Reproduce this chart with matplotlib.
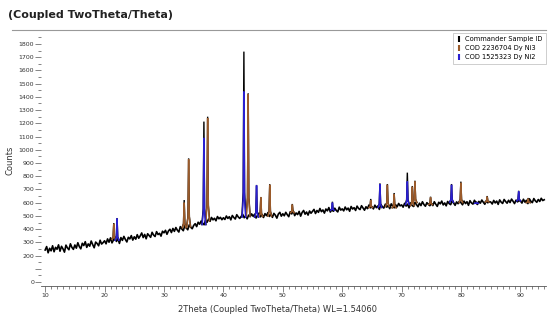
import numpy as np
import matplotlib
matplotlib.use("Agg")
import matplotlib.pyplot as plt
from matplotlib.ticker import MultipleLocator, FuncFormatter

# ---- measured background (counts every 0.25 deg from 10.0 to 94.0) ----
two_theta_start = 10.0
two_theta_step = 0.25
counts = [
    242, 268, 221, 255, 236, 274, 229, 262, 248, 281, 233, 270, 251, 226, 279, 258, 244, 289, 262, 247,
    280, 256, 297, 268, 251, 293, 276, 305, 262, 288, 271, 310, 283, 259, 302, 291, 274, 316, 287, 298,
    312, 289, 326, 301, 334, 296, 318, 340, 307, 329, 292, 336, 315, 345, 322, 303, 338, 326, 351, 317,
    342, 324, 358, 331, 349, 371, 336, 360, 327, 365, 352, 338, 376, 355, 344, 381, 359, 368, 347, 384,
    372, 391, 361, 386, 399, 374, 405, 383, 412, 392, 378, 419, 401, 388, 426, 409, 395, 432, 414, 403,
    428, 441, 419, 452, 437, 461, 445, 433, 468, 452, 476, 459, 488, 470, 482, 463, 495, 478, 489, 471,
    486, 473, 499, 481, 494, 470, 503, 488, 476, 509, 492, 481, 497, 512, 486, 501, 478, 506, 494, 515,
    497, 512, 484, 506, 521, 493, 510, 488, 517, 502, 525, 496, 511, 489, 519, 505, 483, 514, 527, 498,
    516, 501, 527, 509, 494, 531, 515, 538, 502, 522, 510, 534, 498, 526, 541, 513, 529, 506, 537, 520,
    534, 549, 518, 541, 527, 556, 532, 545, 521, 552, 538, 563, 529, 547, 535, 558, 541, 530, 566, 544,
    553, 538, 567, 546, 559, 535, 571, 552, 562, 541, 574, 556, 548, 577, 560, 543, 569, 555, 582, 561,
    568, 553, 581, 562, 575, 549, 586, 570, 559, 588, 566, 579, 555, 591, 573, 561, 584, 569, 594, 576,
    583, 566, 595, 574, 589, 561, 598, 580, 571, 602, 585, 569, 596, 578, 607, 586, 573, 600, 589, 577,
    594, 578, 607, 588, 572, 603, 591, 612, 583, 598, 576, 609, 593, 585, 614, 597, 580, 606, 592, 611,
    599, 584, 612, 593, 607, 580, 615, 598, 589, 618, 601, 586, 610, 596, 620, 603, 588, 614, 599, 608,
    605, 590, 617, 598, 612, 587, 621, 604, 594, 624, 609, 596, 618, 601, 627, 611, 593, 619, 606, 615,
    612, 597, 626, 604, 618, 593, 629, 611, 600, 631, 614, 603, 624, 609, 633, 616, 622,
]

# ---- measured peaks (position, top count) ----
sample_pos = [21.55, 22.1, 33.4, 34.15, 36.72, 37.35, 43.45, 44.17, 45.58, 46.3, 47.8, 51.6,
              58.35, 64.8, 66.35, 67.6, 68.74, 70.96, 71.8, 72.24, 74.87, 78.4, 79.97, 82.6,
              84.4, 89.7, 91.3]
sample_top = [446, 484, 620, 935, 1213, 1250, 1742, 1427, 734, 643, 740, 590,
              607, 628, 746, 741, 673, 827, 726, 766, 645, 741, 759, 607,
              650, 690, 635]

dyni3_pos = [21.55, 33.4, 34.15, 37.35, 44.17, 46.3, 47.8, 51.6, 64.8, 67.6, 68.74, 71.8,
             72.24, 74.87, 79.97, 84.4, 91.3]
dyni3_top = [440, 600, 928, 1240, 1420, 640, 735, 585, 620, 735, 665, 720,
             760, 640, 750, 645, 630]

dyni2_pos = [22.1, 36.72, 43.45, 45.58, 58.35, 66.35, 70.96, 78.4, 82.6, 89.7]
dyni2_top = [480, 1090, 1440, 730, 600, 740, 760, 735, 600, 685]

labels = ["Commander Sample ID", "COD 2236704 Dy Ni3", "COD 1525323 Dy Ni2"]
colors = ["#000000", "#9a5a2a", "#2a1fd0"]

W, H = 550, 321
fig = plt.figure(figsize=(W / 100, H / 100), dpi=100)
ax = fig.add_axes([41 / W, 1 - 286 / H, (546 - 41) / W, (286 - 36) / H])

tt = two_theta_start + two_theta_step * np.arange(len(counts))
counts = np.array(counts, dtype=float)


def peak_line(ax, pos, top, color, lw, hw):
    for p, t in zip(pos, top):
        b = np.interp(p, tt, counts)
        ax.plot([p - hw, p - hw * 0.35, p, p + hw * 0.35, p + hw],
                [b, b + (t - b) * 0.15, t, b + (t - b) * 0.15, b],
                color=color, lw=lw, solid_joinstyle="miter")


ax.plot(tt, counts, color=colors[0], lw=1.2)
peak_line(ax, sample_pos, sample_top, colors[0], 1.0, 0.35)
peak_line(ax, dyni3_pos, dyni3_top, colors[1], 1.1, 0.3)
peak_line(ax, dyni2_pos, dyni2_top, colors[2], 1.1, 0.3)

ax.set_xlim(9.3, 94.3)
ax.set_ylim(-30, 1860)

ax.xaxis.set_major_locator(MultipleLocator(10))
ax.xaxis.set_minor_locator(MultipleLocator(1))
ax.yaxis.set_major_locator(MultipleLocator(100))
ax.yaxis.set_minor_locator(MultipleLocator(50))
ax.yaxis.set_major_formatter(FuncFormatter(lambda v, p: "" if abs(v - 100) < 1 else f"{v:.0f}"))

for s in ["top", "right", "left"]:
    ax.spines[s].set_visible(False)
ax.spines["bottom"].set_color("#555555")
ax.spines["bottom"].set_linewidth(0.6)
ax.tick_params(axis="both", which="major", labelsize=4.5, length=4, width=0.5,
               colors="#555555", labelcolor="#333333", pad=1.0)
ax.tick_params(axis="both", which="minor", length=2, width=0.5, colors="#555555")

ax.set_xlabel("2Theta (Coupled TwoTheta/Theta) WL=1.54060", fontsize=6, color="#333333")
ax.xaxis.set_label_coords((277 - 41) / 505, -(305 - 286) / 250)
ax.set_ylabel("Counts", fontsize=6, color="#333333")
ax.yaxis.set_label_coords(-(41 - 15) / 505, (286 - 160) / 250)

fig.text(8 / W, 1 - 15 / H, "(Coupled TwoTheta/Theta)", fontsize=8, fontweight="bold",
         va="center", ha="left", color="#222222")
fig.add_artist(plt.Line2D([12 / W, 546 / W], [1 - 30 / H, 1 - 30 / H], color="#999999", lw=0.8))

handles = [plt.Line2D([], [], color=c, marker="|", ls="none", markersize=5, mew=1.5) for c in colors]
leg = fig.legend(handles, labels, loc="upper right", bbox_to_anchor=(546 / W, 1 - 33 / H),
                 fontsize=4.8, frameon=True, fancybox=False, handlelength=0.8,
                 handletextpad=0.5, borderpad=0.5, labelspacing=0.45, borderaxespad=0)
leg.get_frame().set_edgecolor("#aaaaaa")
leg.get_frame().set_linewidth(0.5)

fig.savefig("out.png", dpi=100)
